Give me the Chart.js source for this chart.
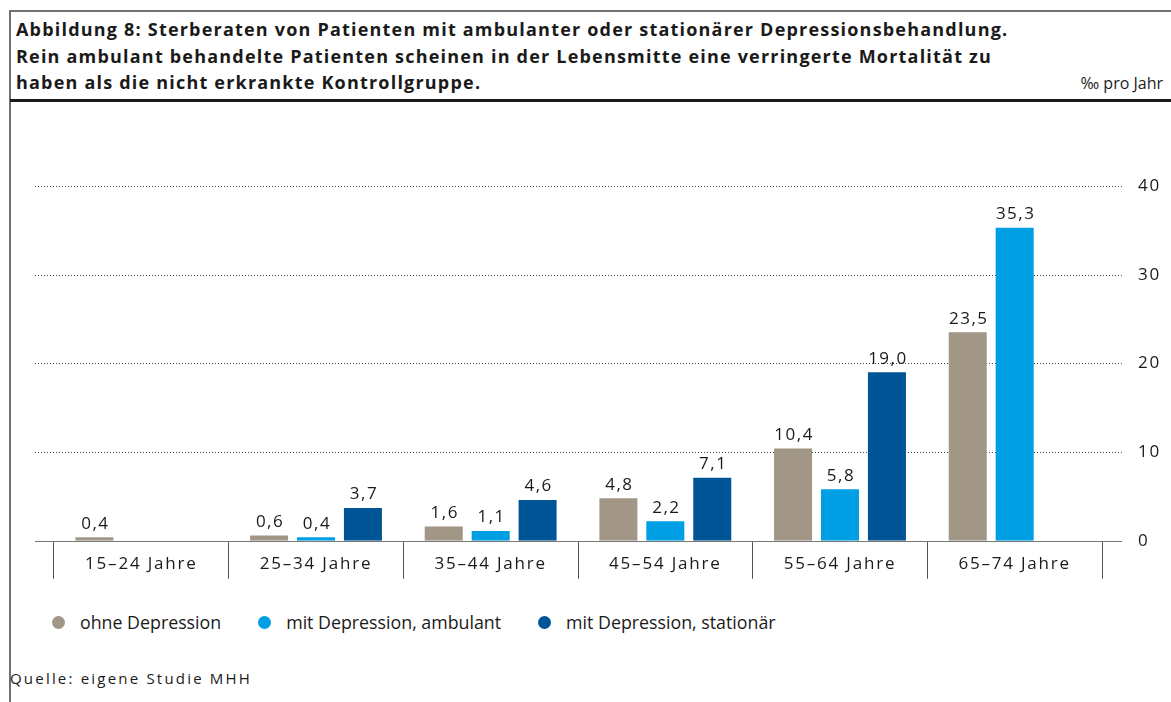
<!doctype html>
<html>

<head>
    <meta charset="utf-8">
    <title>Sterberaten Depression</title>
    <script src="https://cdn.jsdelivr.net/npm/chart.js"></script>
    <style>
        body {
            margin: 0;
            background-color: white;
            font-family: "Open Sans", sans-serif;
            color: #1a1a1a;
            width: 1171px;
            height: 702px;
            overflow: hidden;
            position: relative;
        }

        .frame {
            position: absolute;
            left: 9px;
            top: 10px;
            right: 0;
            bottom: -5px;
            border-left: 2px solid #707070;
            border-top: 2px solid #707070;
        }

        .title {
            position: absolute;
            left: 16px;
            top: 16px;
            font-weight: bold;
            font-size: 18px;
            letter-spacing: 1.2px;
            line-height: 26.5px;
        }

        .unit {
            position: absolute;
            right: 8px;
            top: 72px;
            font-size: 16px;
        }

        .rule {
            position: absolute;
            left: 10px;
            right: 0;
            top: 99px;
            height: 3px;
            background: #1a1a1a;
        }

        .legend {
            position: absolute;
            left: 52px;
            top: 610px;
            font-size: 17.8px;
            display: flex;
        }

        .legend span {
            display: inline-flex;
            align-items: center;
            margin-right: 37px;
        }

        .legend i {
            display: inline-block;
            width: 13px;
            height: 13px;
            border-radius: 50%;
            margin-right: 15px;
        }

        .source {
            position: absolute;
            left: 10px;
            top: 668px;
            font-size: 15px;
            letter-spacing: 2.2px;
        }

        #wrap {
            position: absolute;
            left: 0;
            top: 100px;
            width: 1171px;
            height: 487px;
        }
    </style>
</head>

<body>
    <div class="frame"></div>
    <div class="title">Abbildung 8: Sterberaten von Patienten mit ambulanter oder stationärer Depressionsbehandlung.<br>
        Rein ambulant behandelte Patienten scheinen in der Lebensmitte eine verringerte Mortalität zu<br>
        haben als die nicht erkrankte Kontrollgruppe.</div>
    <div class="unit">‰ pro Jahr</div>
    <div class="rule"></div>
    <div id="wrap"><canvas id="chart"></canvas></div>
    <div class="legend" id="legend"></div>
    <div class="source">Quelle: eigene Studie MHH</div>
    <script>
        const categories = ['15–24 Jahre', '25–34 Jahre', '35–44 Jahre', '45–54 Jahre', '55–64 Jahre', '65–74 Jahre']
        const seriesNames = ['ohne Depression', 'mit Depression, ambulant', 'mit Depression, stationär']
        const ohneDepression = [0.4, 0.6, 1.6, 4.8, 10.4, 23.5]
        const ambulant = [null, 0.4, 1.1, 2.2, 5.8, 35.3]
        const stationaer = [null, 3.7, 4.6, 7.1, 19.0, null]
        const yTicks = [0, 10, 20, 30, 40]
        const colors = ['#a29687', '#009fe3', '#005596']

        // legend in html
        const legend = document.getElementById('legend')
        seriesNames.forEach((name, i) => {
            const s = document.createElement('span')
            s.innerHTML = `<i style="background:${colors[i]}"></i>${name}`
            legend.appendChild(s)
        })

        const fmt = v => v.toFixed(1).replace('.', ',')

        // dotted grid lines + baseline, wider than the chart area
        const gridPlugin = {
            id: 'dotgrid',
            beforeDatasetsDraw(chart) {
                const ctx = chart.ctx
                const y = chart.scales.y
                const a = chart.chartArea
                ctx.save()
                ctx.lineWidth = 1
                yTicks.forEach(t => {
                    const py = Math.round(y.getPixelForValue(t)) + 0.5
                    if (t === 0) {
                        ctx.setLineDash([])
                        ctx.strokeStyle = '#777'
                    } else {
                        ctx.setLineDash([1, 2])
                        ctx.strokeStyle = '#444'
                    }
                    ctx.beginPath()
                    ctx.moveTo(a.left - 19, py)
                    ctx.lineTo(a.right + 20, py)
                    ctx.stroke()
                })
                ctx.restore()
            }
        }

        const labelPlugin = {
            id: 'vals',
            afterDatasetsDraw(chart) {
                const ctx = chart.ctx
                ctx.save()
                ctx.font = '17px "Open Sans"'
                ctx.fillStyle = '#1a1a1a'
                ctx.textAlign = 'center'
                ctx.textBaseline = 'bottom'
                ctx.letterSpacing = '1.5px'
                chart.data.datasets.forEach((ds, i) => {
                    chart.getDatasetMeta(i).data.forEach((bar, j) => {
                        const v = ds.data[j]
                        if (v == null) return
                        ctx.fillText(fmt(v), bar.x + 1, bar.y - 5)
                    })
                })
                ctx.restore()
            }
        }

        const spacingPlugin = {
            id: 'spacing',
            beforeDraw(chart) { chart.ctx.letterSpacing = '1.8px' },
            afterDraw(chart) { chart.ctx.letterSpacing = '0px' }
        }

        const myChart = new Chart(document.getElementById('chart'), {
            type: 'bar',
            data: {
                labels: categories,
                datasets: [ohneDepression, ambulant, stationaer].map((d, i) => ({
                    label: seriesNames[i],
                    data: d,
                    backgroundColor: colors[i],
                    categoryPercentage: 0.806,
                    barPercentage: 0.81
                }))
            },
            options: {
                responsive: true,
                maintainAspectRatio: false,
                animation: false,
                layout: { padding: { left: 54, top: 86, right: 0, bottom: 0 } },
                scales: {
                    x: {
                        grid: { drawOnChartArea: false, drawTicks: true, tickLength: 38, color: '#555', offset: true },
                        border: { display: false },
                        ticks: { padding: -25, color: '#1a1a1a', font: { family: 'Open Sans', size: 17 } },
                        afterFit(s) { s.height = 40 }
                    },
                    y: {
                        position: 'right',
                        min: 0,
                        max: 40,
                        afterBuildTicks(s) { s.ticks = yTicks.map(v => ({ value: v })) },
                        grid: { display: false, drawTicks: false },
                        border: { display: false },
                        ticks: { padding: 36, color: '#1a1a1a', font: { family: 'Open Sans', size: 17 } },
                        afterFit(s) { s.width = 69 }
                    }
                },
                plugins: {
                    legend: { display: false },
                    tooltip: { enabled: false }
                }
            },
            plugins: [spacingPlugin, gridPlugin, labelPlugin]
        })
    </script>
</body>

</html>
